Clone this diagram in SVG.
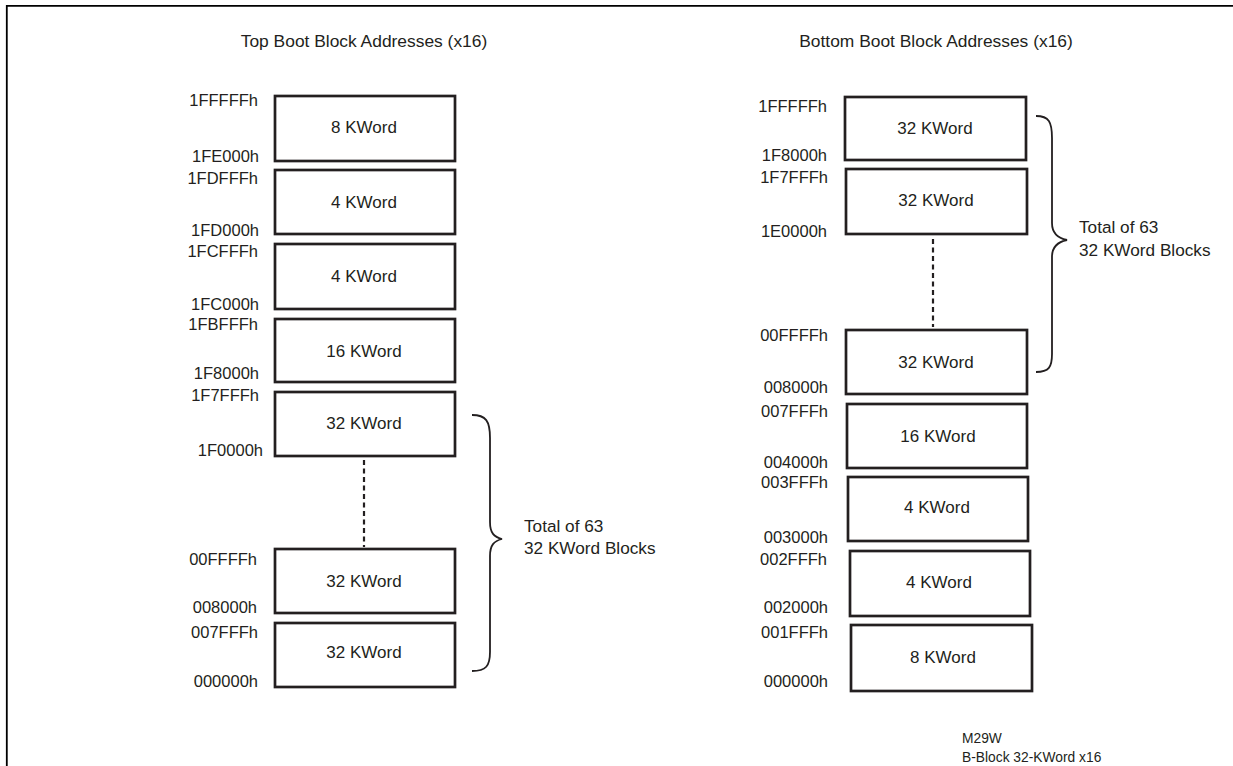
<svg xmlns="http://www.w3.org/2000/svg" width="1233" height="766" viewBox="0 0 1233 766">
<style>
text{font-family:"Liberation Sans",Arial,sans-serif;fill:#231f20}
.t{font-size:17.4px;text-anchor:middle}
.a{font-size:16.5px;text-anchor:end}
.b{font-size:17px;text-anchor:middle}
.n{font-size:17.2px}
.f{font-size:13.8px}
.box{fill:#fff;stroke:#231f20;stroke-width:2.7}
.dash{stroke:#231f20;stroke-width:2.2;stroke-dasharray:5 3.5;fill:none}
.brace{stroke:#231f20;stroke-width:1.8;fill:none}
.frame{stroke:#000;stroke-width:1.8;fill:none}
</style>
<rect x="0" y="0" width="1233" height="766" fill="#fff"/>
<g id="frame">
<path class="frame" d="M6.8,766 V5.8 H1233"/>
</g>
<g id="titles">
<text class="t" x="364" y="47">Top Boot Block Addresses (x16)</text>
<text class="t" x="936" y="47">Bottom Boot Block Addresses (x16)</text>
</g>
<g id="top-boot">
<g id="tb1"><rect class="box" x="275" y="96" width="180" height="65"/><text class="b" x="364" y="133">8 KWord</text></g>
<g id="tb2"><rect class="box" x="275" y="170" width="180" height="64"/><text class="b" x="364" y="208">4 KWord</text></g>
<g id="tb3"><rect class="box" x="275" y="244" width="180" height="65"/><text class="b" x="364" y="282">4 KWord</text></g>
<g id="tb4"><rect class="box" x="275" y="319" width="180" height="63"/><text class="b" x="364" y="357">16 KWord</text></g>
<g id="tb5"><rect class="box" x="275" y="392" width="180" height="64"/><text class="b" x="364" y="429">32 KWord</text></g>
<g id="tb6"><rect class="box" x="275" y="549" width="180" height="64"/><text class="b" x="364" y="587">32 KWord</text></g>
<g id="tb7"><rect class="box" x="275" y="623" width="180" height="64"/><text class="b" x="364" y="658">32 KWord</text></g>
<g id="tb-labels">
<text class="a" x="258" y="106">1FFFFFh</text>
<text class="a" x="259" y="162">1FE000h</text>
<text class="a" x="258" y="184">1FDFFFh</text>
<text class="a" x="259" y="236">1FD000h</text>
<text class="a" x="258" y="257">1FCFFFh</text>
<text class="a" x="259" y="310">1FC000h</text>
<text class="a" x="258" y="330">1FBFFFh</text>
<text class="a" x="259" y="379">1F8000h</text>
<text class="a" x="259" y="401">1F7FFFh</text>
<text class="a" x="263" y="456">1F0000h</text>
<text class="a" x="257" y="565">00FFFFh</text>
<text class="a" x="257" y="613">008000h</text>
<text class="a" x="258" y="638">007FFFh</text>
<text class="a" x="258" y="687">000000h</text>
</g>
<g id="tb-note">
<text class="n" x="524" y="532">Total of 63</text>
<text class="n" x="524" y="554">32 KWord Blocks</text>
</g>
</g>
<g id="bottom-boot">
<g id="bb1"><rect class="box" x="845" y="97" width="181" height="63"/><text class="b" x="935" y="134">32 KWord</text></g>
<g id="bb2"><rect class="box" x="846" y="169" width="181" height="65"/><text class="b" x="936" y="206">32 KWord</text></g>
<g id="bb3"><rect class="box" x="846" y="330" width="181" height="64"/><text class="b" x="936" y="368">32 KWord</text></g>
<g id="bb4"><rect class="box" x="847" y="404" width="180" height="64"/><text class="b" x="938" y="442">16 KWord</text></g>
<g id="bb5"><rect class="box" x="848" y="477" width="180" height="64"/><text class="b" x="937" y="513">4 KWord</text></g>
<g id="bb6"><rect class="box" x="850" y="551" width="180" height="65"/><text class="b" x="939" y="588">4 KWord</text></g>
<g id="bb7"><rect class="box" x="851" y="625" width="181" height="66"/><text class="b" x="943" y="663">8 KWord</text></g>
<g id="bb-labels">
<text class="a" x="827" y="112">1FFFFFh</text>
<text class="a" x="827" y="161">1F8000h</text>
<text class="a" x="828" y="183">1F7FFFh</text>
<text class="a" x="827" y="237">1E0000h</text>
<text class="a" x="828" y="341">00FFFFh</text>
<text class="a" x="828" y="393">008000h</text>
<text class="a" x="828" y="417">007FFFh</text>
<text class="a" x="828" y="468">004000h</text>
<text class="a" x="828" y="488">003FFFh</text>
<text class="a" x="828" y="543">003000h</text>
<text class="a" x="827" y="565">002FFFh</text>
<text class="a" x="828" y="613">002000h</text>
<text class="a" x="828" y="638">001FFFh</text>
<text class="a" x="828" y="687">000000h</text>
</g>
<g id="bb-note">
<text class="n" x="1079" y="233">Total of 63</text>
<text class="n" x="1079" y="256">32 KWord Blocks</text>
</g>
</g>
<g id="connectors">
<line class="dash" x1="364" y1="460" x2="364" y2="547"/>
<line class="dash" x1="933" y1="239" x2="933" y2="327"/>
<path class="brace" d="M472,415 C486,415 490,421 490,438 L490,522 C490,533 494,537 502,539 C494,541 490,545 490,556 L490,652 C490,666 486,671 472,671"/>
<path class="brace" d="M1036,116 C1049,116 1052,122 1052,138 L1052,223 C1052,233 1057,238 1067,240 C1057,242 1052,247 1052,257 L1052,354 C1052,367 1049,372 1036,372"/>
</g>
<g id="footer">
<text class="f" x="962" y="743">M29W</text>
<text class="f" x="962" y="762">B-Block 32-KWord x16</text>
</g>
</svg>
